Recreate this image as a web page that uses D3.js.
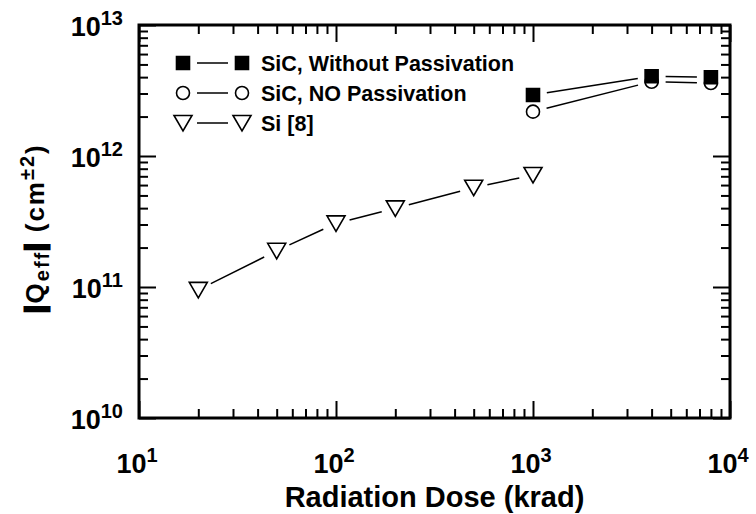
<!DOCTYPE html>
<html>
<head>
<meta charset="utf-8">
<script src="https://cdn.jsdelivr.net/npm/d3@7"></script>
<style>
  body { margin: 0; background: #fff; }
  svg { display: block; }
</style>
</head>
<body>
<svg id="plot" width="756" height="514"></svg>
<script>
// data
var doseSi = [20, 50, 100, 200, 500, 1000];
var qSi = [0.95e11, 1.89e11, 3.06e11, 3.98e11, 5.73e11, 7.16e11];
var doseSiC = [1000, 4000, 8000];
var qSiCWithout = [2.92e12, 4.06e12, 3.99e12];
var qSiCNo = [2.18e12, 3.69e12, 3.61e12];

var legendLabels = ['SiC, Without Passivation', 'SiC, NO Passivation', 'Si [8]'];
var xMajor = [10, 100, 1000, 10000];
var xTickExp = ['1', '2', '3', '4'];
var yMajor = [1e10, 1e11, 1e12, 1e13];
var yTickExp = ['10', '11', '12', '13'];

function draw() {
    var pl = 139, pr = 730, pt = 25, pb = 418;
    var font = '"Liberation Sans", Arial, Helvetica, sans-serif';

    var svg = d3.select('#plot');

    var xs = d3.scaleLog().domain([10, 1e4]).range([pl, pr]);
    var ys = d3.scaleLog().domain([1e10, 1e13]).range([pb, pt]);

    // minor ticks 2..9 in every decade
    function minors(decades) {
        var out = [];
        decades.forEach(function(d) {
            for (var k = 2; k <= 9; k++) out.push(k * d);
        });
        return out;
    }
    var xMinor = minors([10, 100, 1000]);
    var yMinor = minors([1e10, 1e11, 1e12]);

    function tickGroup(axisFn, scale, values, size, tx, ty) {
        svg.append('g')
            .attr('transform', 'translate(' + tx + ',' + ty + ')')
            .call(axisFn(scale).tickValues(values).tickSize(-size).tickFormat(''))
            .call(function(g) { g.select('.domain').remove(); })
            .selectAll('line')
            .attr('stroke', '#000')
            .attr('stroke-width', 2);
    }

    // ticks, all pointing inward
    tickGroup(d3.axisBottom, xs, xMinor, 9, 0, pb);
    tickGroup(d3.axisBottom, xs, xMajor, 17, 0, pb);
    tickGroup(d3.axisTop, xs, xMinor, 9, 0, pt);
    tickGroup(d3.axisTop, xs, xMajor, 17, 0, pt);
    tickGroup(d3.axisLeft, ys, yMinor, 9, pl, 0);
    tickGroup(d3.axisLeft, ys, yMajor, 17, pl, 0);
    tickGroup(d3.axisRight, ys, yMinor, 9, pr, 0);
    tickGroup(d3.axisRight, ys, yMajor, 17, pr, 0);

    // frame
    svg.append('rect')
        .attr('x', pl).attr('y', pt)
        .attr('width', pr - pl).attr('height', pb - pt)
        .attr('fill', 'none')
        .attr('stroke', '#000')
        .attr('stroke-width', 3);

    // tick labels
    var xl = svg.append('g').selectAll('text')
        .data(xMajor)
        .enter()
        .append('text')
        .attr('x', function(d) { return xs(d) - 2; })
        .attr('y', 473)
        .attr('text-anchor', 'middle')
        .style('font', 'bold 27px ' + font);
    xl.append('tspan').text('10');
    xl.append('tspan').attr('dy', -11).style('font-size', '20px')
        .text(function(d, i) { return xTickExp[i]; });

    var yl = svg.append('g').selectAll('text')
        .data(yMajor)
        .enter()
        .append('text')
        .attr('x', 123)
        .attr('y', function(d) { return ys(d) + 11; })
        .attr('text-anchor', 'end')
        .style('font', 'bold 27px ' + font);
    yl.append('tspan').text('10');
    yl.append('tspan').attr('dy', -11).style('font-size', '20px')
        .text(function(d, i) { return yTickExp[i]; });

    // axis titles
    svg.append('text')
        .attr('x', (pl + pr) / 2)
        .attr('y', 507)
        .attr('text-anchor', 'middle')
        .style('font', 'bold 29px ' + font)
        .text('Radiation Dose (krad)');

    var yt = svg.append('text')
        .attr('transform', 'translate(44,228) rotate(-90)')
        .attr('text-anchor', 'middle')
        .style('font', 'bold 26px ' + font)
        .style('letter-spacing', '2px');
    yt.append('tspan').attr('stroke', '#000').attr('stroke-width', 3).text('|');
    yt.append('tspan').text('Q');
    yt.append('tspan').attr('dy', 5).style('font-size', '20px').text('eff');
    yt.append('tspan').attr('dy', -5).attr('stroke', '#000').attr('stroke-width', 3).text('|');
    yt.append('tspan').text(' (cm');
    yt.append('tspan').attr('dy', -10).style('font-size', '20px').text('\u00b12');
    yt.append('tspan').attr('dy', 10).text(')');

    // markers
    var sq = d3.symbol().type(d3.symbolSquare).size(13 * 13)();
    var circ = d3.symbol().type(d3.symbolCircle).size(Math.PI * 6.5 * 6.5)();
    var tri = 'M-9,-7.5L9,-7.5L0,8Z';

    function series(xv, yv) {
        return xv.map(function(d, i) { return [xs(d), ys(yv[i])]; });
    }

    // line segments stopping short of the markers
    function gapLines(pts, gap) {
        var g = svg.append('g');
        for (var i = 0; i < pts.length - 1; i++) {
            var a = pts[i], b = pts[i + 1];
            var dx = b[0] - a[0], dy = b[1] - a[1];
            var len = Math.sqrt(dx * dx + dy * dy);
            var ux = dx / len, uy = dy / len;
            g.append('line')
                .attr('x1', a[0] + ux * gap).attr('y1', a[1] + uy * gap)
                .attr('x2', b[0] - ux * gap).attr('y2', b[1] - uy * gap)
                .attr('stroke', '#000')
                .attr('stroke-width', 1.5);
        }
    }

    var pSi = series(doseSi, qSi);
    var pNo = series(doseSiC, qSiCNo);
    var pWo = series(doseSiC, qSiCWithout);

    gapLines(pSi, 14);
    gapLines(pNo, 14);
    gapLines(pWo, 14);

    function markers(pts, path, fill) {
        svg.append('g').selectAll('path')
            .data(pts)
            .enter()
            .append('path')
            .attr('transform', function(d) { return 'translate(' + d[0] + ',' + d[1] + ')'; })
            .attr('d', path)
            .attr('fill', fill)
            .attr('stroke', '#000')
            .attr('stroke-width', 1.6);
    }

    markers(pSi, tri, '#fff');
    markers(pNo, circ, '#fff');
    markers(pWo, sq, '#000');

    // legend
    var legY = [63, 93, 123];
    var legSym = [sq, circ, tri];
    var legFill = ['#000', '#fff', '#fff'];
    var leg = svg.append('g');
    legendLabels.forEach(function(t, i) {
        var row = leg.append('g').attr('transform', 'translate(0,' + legY[i] + ')');
        row.append('line')
            .attr('x1', 197).attr('x2', 228).attr('y1', 0).attr('y2', 0)
            .attr('stroke', '#000').attr('stroke-width', 1.5);
        [183, 242].forEach(function(mx) {
            row.append('path')
                .attr('transform', 'translate(' + mx + ',0)')
                .attr('d', legSym[i])
                .attr('fill', legFill[i])
                .attr('stroke', '#000')
                .attr('stroke-width', 1.6);
        });
        row.append('text')
            .attr('x', 261)
            .attr('y', 8)
            .style('font', 'bold 21.5px ' + font)
            .text(t);
    });
}

draw();
</script>
</body>
</html>
